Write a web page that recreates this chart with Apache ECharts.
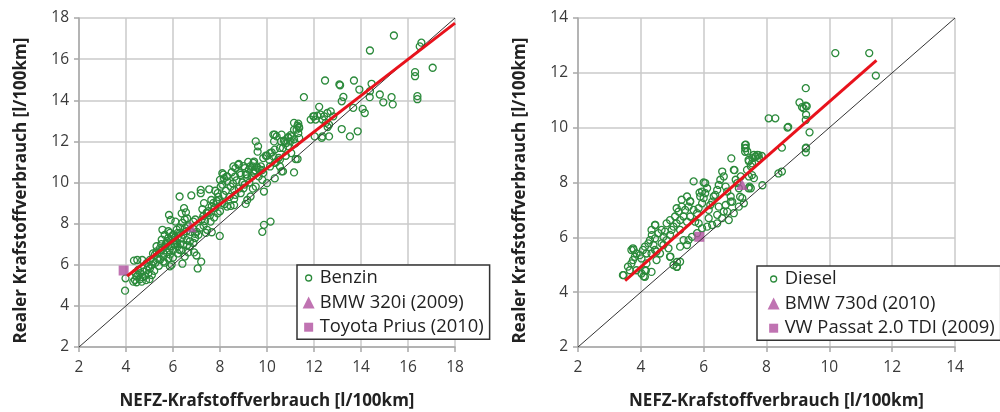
<!DOCTYPE html>
<html><head><meta charset="utf-8">
<script src="https://cdn.jsdelivr.net/npm/echarts@6/dist/echarts.min.js"></script>
<style>html,body{margin:0;padding:0;background:#fff}#c{width:1000px;height:412px}</style>
</head><body><div id="c"></div>
<script>
// ---------- data ----------
const xTitle = 'NEFZ-Krafstoffverbrauch [l/100km]';
const yTitle = 'Realer Krafstoffverbrauch [l/100km]';

const leftRange = [2, 18];
const rightRange = [2, 14];
const tickStep = 2;

const benzinName = 'Benzin';
const benzin = [
[3.96,4.74],[3.98,5.34],[4.31,5.18],[4.38,5.26],[4.45,5.43],[4.52,5.51],[4.60,5.59],[4.67,5.18],[4.52,5.75],[4.74,5.67],
[4.88,5.75],[5.02,5.83],[4.95,5.59],[5.09,6.00],[5.02,6.24],[4.88,6.08],[5.16,6.16],[4.34,6.20],[4.48,6.23],[4.69,6.23],
[4.45,5.15],[4.60,5.30],[4.80,5.45],[5.10,5.50],[4.95,5.90],[4.70,5.40],[5.20,5.70],[5.00,5.30],[4.40,5.60],[4.85,5.25],
[5.23,6.49],[5.30,6.65],[5.45,6.81],[5.52,6.73],[5.45,6.24],[5.59,6.16],[5.52,7.22],[5.66,6.89],[5.73,7.06],[5.59,6.40],
[5.80,7.63],[5.73,6.60],[5.87,6.50],[5.80,7.30],[5.94,7.38],[6.01,7.46],[6.09,7.22],[5.87,7.55],[5.94,6.90],[6.01,6.70],
[6.16,7.71],[6.09,6.98],[5.94,6.00],[5.87,5.92],[5.80,6.30],[6.05,7.00],[5.70,7.00],[5.50,7.00],[5.30,6.90],[5.35,6.30],
[5.60,6.55],[5.75,7.15],[5.90,7.15],[6.10,7.35],[6.15,7.05],[6.20,7.55],[5.65,7.45],[5.40,6.55],[5.25,6.10],[5.15,6.55],
[5.40,5.95],[5.65,6.10],[5.85,6.70],[6.00,6.35],[6.20,6.90],[5.55,7.70],[5.83,8.42],[5.90,8.18],[6.10,8.10],
[6.23,7.38],[6.30,7.55],[6.37,7.30],[6.44,7.46],[6.51,7.79],[6.58,7.63],[6.65,7.87],[6.72,7.14],[6.30,7.00],[6.44,6.98],
[6.58,7.20],[6.72,6.89],[6.87,7.06],[6.30,7.80],[6.40,8.04],[6.50,8.20],[6.37,8.50],[6.47,8.75],[6.28,9.32],[6.78,9.37],
[6.60,8.26],[6.94,7.50],[7.01,7.60],[6.87,8.10],[6.94,7.30],[6.90,6.60],[7.00,6.45],[6.20,6.55],[6.35,6.70],[6.50,6.40],
[6.40,6.05],[6.28,6.73],[6.60,6.95],[6.75,7.60],[6.85,7.75],[7.08,7.45],[7.20,6.15],[7.05,5.82],[6.65,6.60],[7.15,7.80],
[6.55,8.55],[6.95,8.20],
[7.22,8.20],[7.29,8.36],[7.36,8.12],[7.43,8.53],[7.50,8.61],[7.57,8.40],[7.65,8.85],[7.72,9.01],[7.79,8.77],[7.86,9.10],
[7.93,9.30],[7.30,7.90],[7.45,7.70],[7.60,8.10],[7.75,8.30],[7.90,8.50],[8.00,8.60],[7.18,9.64],[7.18,9.48],[7.54,9.67],
[7.63,9.15],[7.75,8.75],[7.32,9.00],[7.47,8.50],[7.90,9.48],[8.03,9.80],[7.96,9.15],[7.99,7.40],[7.40,7.55],[7.65,7.58],
[7.25,8.70],[7.80,9.60],[8.10,9.00],[8.15,9.40],
[8.10,10.45],[8.17,10.20],[8.31,10.05],[8.10,9.90],[8.45,9.80],[8.60,9.64],[8.80,10.90],[8.66,10.70],[8.88,10.37],[9.16,10.20],
[9.45,10.45],[9.38,10.78],[9.60,10.70],[9.74,10.78],[9.45,11.02],[9.23,10.62],[9.52,12.00],[9.62,11.76],[9.60,11.50],[9.95,11.30],
[9.52,9.80],[9.30,9.32],[9.16,9.15],[9.09,8.96],[8.60,8.90],[8.45,8.86],[8.30,8.83],[8.88,9.48],[9.00,9.72],[9.80,10.13],
[10.00,9.97],[9.87,9.56],[8.25,9.60],[8.40,9.30],[8.55,9.95],[8.70,10.10],[8.80,9.70],[8.95,10.00],[9.10,10.40],[9.25,10.00],
[9.35,10.30],[9.50,10.60],[9.65,10.30],[9.80,10.60],[8.30,10.30],[8.50,10.50],[9.00,10.80],[9.20,11.00],[8.65,9.40],[9.05,9.90],
[9.40,9.70],[8.20,8.95],[8.60,9.20],[10.15,8.10],[9.87,7.94],[9.80,7.60],
[8.57,10.78],[8.78,10.86],[9.06,10.70],[9.28,10.78],[9.42,10.95],[9.56,10.78],[9.70,10.62],[9.84,10.46],[9.42,10.54],[9.14,10.38],
[8.85,10.46],[8.64,10.29],[8.29,10.29],[8.14,10.38],[8.00,10.13],
[10.33,12.33],[10.30,12.00],[10.55,11.68],[10.33,11.60],[10.20,11.46],[10.00,11.30],[10.72,12.03],[10.82,11.92],[10.89,11.76],[10.68,11.68],
[11.03,11.43],[10.33,10.20],[10.68,10.54],[11.15,12.90],[11.30,12.76],[11.37,12.65],[11.15,12.57],[11.33,12.40],[11.00,12.30],[11.15,12.10],
[11.37,12.16],[11.22,11.14],[11.30,11.14],[11.15,10.49],[10.50,11.20],[10.80,11.30],[11.00,12.00],[10.40,11.00],[10.90,12.20],[11.20,11.90],
[10.10,11.10],[10.60,12.00],[10.27,12.33],[10.41,12.24],[10.62,12.33],[10.77,12.00],[10.91,12.17],[11.05,12.24],[11.26,12.57],[11.36,12.70],
[11.33,12.86],[9.84,11.19],[10.13,11.43],[10.27,11.27],[10.13,10.78],[10.34,10.95],[10.55,11.11],[10.55,10.78],[10.62,10.54],
[11.57,14.15],[12.22,13.68],[12.00,13.22],[12.14,13.25],[12.28,13.30],[12.43,13.22],[12.57,13.38],[12.71,13.46],[12.07,13.06],[12.36,13.06],
[12.50,12.90],[12.64,12.81],[12.03,12.24],[12.36,12.24],[12.64,12.24],[12.47,14.96],[13.11,14.73],[11.86,13.06],[11.97,13.22],[12.82,13.22],
[12.58,12.70],[12.33,12.17],[13.18,12.60],[13.53,12.24],[13.86,12.49],
[15.40,17.15],[14.38,16.42],[16.57,16.80],[16.50,16.62],[17.05,15.58],[16.30,15.37],[16.30,15.17],[16.40,14.20],[16.40,14.05],[13.70,14.96],
[13.93,14.52],[14.45,14.80],[14.80,14.28],[14.37,14.15],[14.38,14.44],[15.30,14.15],[15.35,13.80],[14.95,13.90],[13.25,14.16],[13.18,13.95],
[13.67,13.63],[14.07,13.58],[14.16,13.38],[13.08,14.77]
];
const bmw320iName = 'BMW 320i (2009)';
const bmw320i = [[6.75,7.85]];
const priusName = 'Toyota Prius (2010)';
const prius = [[3.9,5.72]];
const benzinFit = [[4.05,5.45],[18,17.75]];
const leftDiagonal = [[2,2],[18,18]];

const dieselName = 'Diesel';
const diesel = [
[3.43,4.62],[3.59,4.93],[3.65,4.80],[3.70,5.05],[3.75,5.17],[3.81,5.29],[3.86,5.41],[3.70,5.54],[3.75,5.60],[3.97,5.35],
[4.02,5.23],[4.07,5.54],[4.13,5.66],[4.18,5.41],[4.24,5.78],[4.29,5.90],[4.40,5.72],[4.45,5.96],[4.34,6.27],[4.45,6.45],
[4.56,6.15],[4.66,6.27],[4.77,6.21],[4.72,6.02],[4.82,5.90],[4.93,6.09],[4.98,6.27],[5.04,6.39],[5.14,6.51],[5.25,6.63],
[5.20,6.94],[5.36,6.76],[5.47,6.57],[5.41,7.00],[5.52,7.12],[5.57,7.30],[5.68,8.04],[5.68,7.00],[5.79,6.88],[5.84,7.06],
[5.95,7.24],[6.00,7.43],[6.05,7.61],[6.11,7.79],[5.89,7.49],[5.95,7.67],[6.05,7.98],[6.16,7.00],[6.21,7.18],[6.27,7.30],
[6.32,7.49],[6.37,7.55],[6.43,7.73],[6.48,7.91],[6.53,8.10],[6.59,8.40],[6.64,8.22],[6.70,7.85],[6.75,7.67],[6.86,7.49],
[6.91,7.30],[6.96,8.46],[7.02,8.10],[7.07,7.98],[7.12,7.79],[7.18,8.22],[7.23,7.43],[7.34,9.38],[7.34,9.26],[7.39,9.13],
[7.44,8.77],[7.50,8.59],[7.55,8.89],[7.60,9.01],[7.66,8.95],[7.71,9.01],[7.76,8.89],[7.50,7.79],[7.44,8.22],[7.60,8.16],
[5.14,4.93],[5.25,5.11],[5.04,4.99],[4.93,5.29],[5.25,5.66],[5.47,5.72],[5.52,5.90],[4.50,5.17],[4.13,4.80],[4.02,4.68],
[4.13,4.56],[4.34,4.74],[4.50,5.48],[4.61,5.41],[4.72,5.72],[4.88,5.60],[5.36,5.90],[5.63,6.02],[5.79,6.15],[5.95,6.33],
[6.11,6.39],[6.27,6.45],[6.43,6.51],[6.59,6.70],[6.64,6.94],[6.80,6.63],[6.96,6.88],[7.12,7.12],[7.28,7.24],[5.25,6.27],
[4.93,6.63],[4.82,6.51],[5.09,6.76],[5.30,7.12],[5.57,6.76],[5.73,6.57],[5.84,6.51],[6.16,6.70],[6.48,7.12],[6.70,7.18],
[6.86,7.30],[4.66,5.78],[4.34,5.41],[4.45,5.54],[3.86,4.80],[4.18,5.05],[5.30,7.37],[5.14,7.06],[5.47,7.49],[6.43,6.82],
[6.75,6.94],
[10.19,12.72],[11.27,12.72],[11.48,11.90],[9.25,11.44],[9.05,10.92],[9.13,10.75],[9.25,10.80],[9.28,10.78],[9.18,10.71],[9.26,10.47],
[9.25,10.28],[9.37,9.83],[9.25,9.25],[9.25,9.10],[9.26,9.27],[8.07,10.34],[8.28,10.34],[8.67,10.00],[8.69,10.03],[8.49,9.27],
[8.38,8.33],[8.49,8.40],[7.87,7.90],[7.32,9.37],[7.32,9.25],[7.32,9.12],[7.64,8.94],[7.75,9.00],[7.85,8.97],[7.43,8.82],
[7.54,8.70],[7.38,8.46],[7.54,8.27],[7.46,7.85],[7.43,7.79],[7.16,7.48],[6.88,8.88],[6.98,8.45],[6.00,8.00],[5.87,7.63],
[5.57,7.32],[4.46,6.45],[4.35,6.08],[3.77,5.55],[3.45,4.62],[4.09,4.58],[4.16,4.78],[5.15,4.92],[5.15,5.10],[4.94,5.30]
];
const bmw730dName = 'BMW 730d (2010)';
const bmw730d = [[7.22,7.93]];
const passatName = 'VW Passat 2.0 TDI (2009)';
const passat = [[5.86,6.02]];
const dieselFit = [[3.5,4.42],[11.5,12.45]];
const rightDiagonal = [[2,2],[14,14]];

// ---------- style ----------
const GREEN = '#2b8a3b', MAGENTA = '#b0509f', RED = '#e8121c';
const FONT = 'Open Sans';
const circleIcon = 'path://M0,0M12,12M9,6A3,3,0,1,1,3,6A3,3,0,1,1,9,6Z';
const squareIcon = 'path://M0,0M12,12M1.5,1.5L10.5,1.5L10.5,10.5L1.5,10.5Z';

function nameStyle(pad) {
  return { fontFamily: FONT, fontWeight: 'bold', fontSize: 17, color: '#222', padding: pad };
}
function axis(range, name, isY) {
  return {
    type: 'value', min: range[0], max: range[1], interval: tickStep,
    name: name, nameLocation: 'middle', nameGap: isY ? 49 : 46, nameRotate: isY ? 90 : 0,
    nameTextStyle: nameStyle(isY ? [0, 16, 0, 0] : [0, 0, 0, 0]),
    axisLine: { show: true, onZero: false, lineStyle: { color: '#a8a8a8', width: 1.5 } },
    axisTick: { show: true, length: 5, lineStyle: { color: '#a8a8a8', width: 1.5 } },
    splitLine: { show: true, lineStyle: { color: '#cacaca', width: 1.5 } },
    axisLabel: { fontFamily: FONT, fontSize: 15.5, color: '#3a3a3a', margin: isY ? 10 : 13 }
  };
}
function scatterCircles(name, data, idx) {
  return { name, type: 'scatter', data, xAxisIndex: idx, yAxisIndex: idx, symbol: 'circle', symbolSize: 7,
    itemStyle: { color: 'rgba(255,255,255,0)', borderColor: GREEN, borderWidth: 1.3, opacity: 1 }, z: 2 };
}
function special(name, data, idx, sym, size) {
  return { name, type: 'scatter', data, xAxisIndex: idx, yAxisIndex: idx, symbol: sym, symbolSize: size,
    itemStyle: { color: MAGENTA }, z: 3 };
}
function line(data, idx, color, width, z) {
  return { type: 'line', data, xAxisIndex: idx, yAxisIndex: idx, symbol: 'none', silent: true,
    lineStyle: { color, width }, z };
}
function legend(names, left, top, pad) {
  return {
    orient: 'vertical', left, top, itemWidth: 12, itemHeight: 12, itemGap: 6.6, padding: pad,
    borderColor: '#333', borderWidth: 1.5, backgroundColor: '#fff', borderRadius: 0,
    textStyle: { fontFamily: FONT, fontSize: 18.4, color: '#222' },
    data: [
      { name: names[0], icon: circleIcon, itemStyle: { color: 'rgba(255,255,255,0)', borderColor: GREEN, borderWidth: 1.3 } },
      { name: names[1], icon: 'triangle' },
      { name: names[2], icon: squareIcon }
    ]
  };
}

const chart = echarts.init(document.getElementById('c'), null, { renderer: 'canvas' });
const xRight = axis(rightRange, xTitle, false);
xRight.nameTextStyle = nameStyle([0, 0, 0, 20]);
chart.setOption({
  animation: false,
  backgroundColor: '#fff',
  grid: [
    { left: 79, top: 18, width: 376, height: 329, containLabel: false, outerBoundsMode: 'none' },
    { left: 578, top: 18, width: 377, height: 329, containLabel: false, outerBoundsMode: 'none' }
  ],
  xAxis: [ Object.assign(axis(leftRange, xTitle, false), { gridIndex: 0 }),
           Object.assign(xRight, { gridIndex: 1 }) ],
  yAxis: [ Object.assign(axis(leftRange, yTitle, true), { gridIndex: 0 }),
           Object.assign(axis(rightRange, yTitle, true), { gridIndex: 1 }) ],
  legend: [
    legend([benzinName, bmw320iName, priusName], 297, 265, [4, 6, 3, 5]),
    legend([dieselName, bmw730dName, passatName], 757, 266, [4, 6, 3, 10])
  ],
  series: [
    scatterCircles(benzinName, benzin, 0),
    line(leftDiagonal, 0, '#333', 1, 4),
    special(bmw320iName, bmw320i, 0, 'triangle', [12, 11]),
    special(priusName, prius, 0, 'rect', 10),
    line(benzinFit, 0, RED, 3, 6),
    scatterCircles(dieselName, diesel, 1),
    line(rightDiagonal, 1, '#333', 1, 4),
    special(bmw730dName, bmw730d, 1, 'triangle', [12, 11]),
    special(passatName, passat, 1, 'rect', 10),
    line(dieselFit, 1, RED, 3, 6)
  ]
});
</script></body></html>
